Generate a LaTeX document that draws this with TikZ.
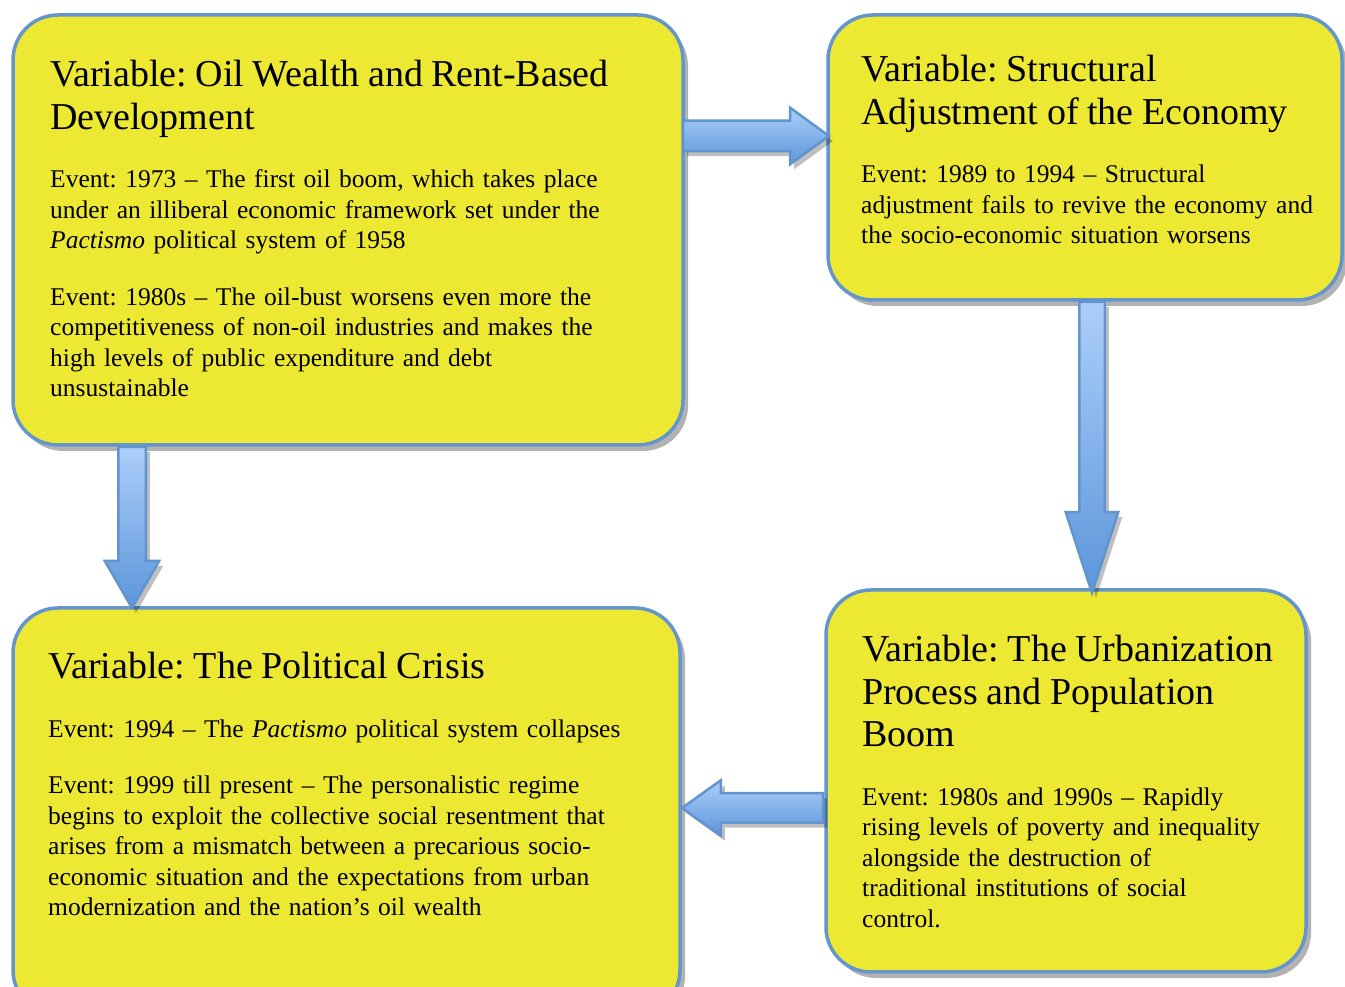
\documentclass[tikz,border=0pt]{standalone}
\usepackage{fontspec}
\setmainfont{Liberation Serif}
\usepackage{tikz}
\usetikzlibrary{calc}
\usetikzlibrary{positioning}
\usetikzlibrary{shapes.arrows}
\usetikzlibrary{shadows}
\definecolor{boxyellow}{RGB}{237,233,50}
\definecolor{boxblue}{RGB}{100,150,205}
\definecolor{arrowlight}{RGB}{172,206,250}
\definecolor{arrowdark}{RGB}{92,150,218}
\definecolor{arrowedge}{RGB}{98,148,205}
\frenchspacing
\newcommand{\titlefont}{\fontsize{38}{42.5}\selectfont}
\newcommand{\eventfont}{\fontsize{25.5}{30.5}\selectfont}
\newcommand{\titleskip}{28pt}
\newcommand{\eventskip}{26pt}
\newcommand{\blockarrow}[4]{%
  \path let \p1=($(#3)-(#2)$), \n1={veclen(\x1,\y1)}, \n2={atan2(\y1,\x1)} in
    node[bigarrow, minimum height=\n1, rotate=\n2, anchor=tail, #4] (#1) at (#2) {};}
\tikzset{
    varbox/.style={draw=boxblue, line width=3.5pt, fill=boxyellow, rounded corners=45pt,
        anchor=north west, inner sep=0pt, outer sep=0pt,
        drop shadow={shadow xshift=5pt, shadow yshift=-6pt, fill=black, opacity=.3}},
    vartext/.style={anchor=north west, inner sep=0pt, text width=660pt, align=left,
        font=\eventfont\parindent0pt},
    bigarrow/.style={single arrow, draw=arrowedge, line width=2.5pt, inner xsep=0pt,
        minimum width=0pt, outer sep=0pt, top color=arrowlight, bottom color=arrowdark,
        drop shadow={shadow xshift=4pt, shadow yshift=-5pt, fill=black, opacity=.25}}
}

\begin{document}
\begin{tikzpicture}[x=1pt, y=1pt]
    \useasboundingbox (0,0) rectangle (1345,986);

    \node[varbox, minimum width=670pt, minimum height=430pt] (oil) at (13,971) {};
    \node[varbox, minimum width=514pt, minimum height=285pt] (adjust) at (828,971) {};
    \node[varbox, minimum width=667pt, minimum height=407pt] (crisis) at (13,378) {};
    \node[varbox, minimum width=480pt, minimum height=382pt] (urban) at (826,396) {};

    \node[vartext, below right=45pt and 37pt of oil.north west] (oiltext) {%
        {\titlefont Variable: Oil Wealth and Rent-Based\\Development\par}
        \vspace{\titleskip}
        Event: 1973 -- The first oil boom, which takes place\\
        under an illiberal economic framework set under the\\
        \textit{Pactismo} political system of 1958\par
        \vspace{\eventskip}
        Event: 1980s -- The oil-bust worsens even more the\\
        competitiveness of non-oil industries and makes the\\
        high levels of public expenditure and debt\\
        unsustainable\par};
    \node[vartext, below right=40pt and 33pt of adjust.north west] (adjusttext) {%
        {\titlefont Variable: Structural\\Adjustment of the Economy\par}
        \vspace{\titleskip}
        Event: 1989 to 1994 -- Structural\\
        adjustment fails to revive the economy and\\
        the socio-economic situation worsens\par};
    \node[vartext, below right=44pt and 35pt of crisis.north west] (crisistext) {%
        {\titlefont Variable: The Political Crisis\par}
        \vspace{\titleskip}
        Event: 1994 -- The \textit{Pactismo} political system collapses\par
        \vspace{\eventskip}
        Event: 1999 till present -- The personalistic regime\\
        begins to exploit the collective social resentment that\\
        arises from a mismatch between a precarious socio-\\
        economic situation and the expectations from urban\\
        modernization and the nation’s oil wealth\par};
    \node[vartext, below right=45pt and 36pt of urban.north west] (urbantext) {%
        {\titlefont Variable: The Urbanization\\Process and Population\\Boom\par}
        \vspace{\titleskip}
        Event: 1980s and 1990s -- Rapidly\\
        rising levels of poverty and inequality\\
        alongside the destruction of\\
        traditional institutions of social\\
        control.\par};

    \coordinate (boomtail) at ($(oil.north east)+(0,-121)$);
    \coordinate (boomtip) at ($(adjust.north west)+(1,-121)$);
    \coordinate (busttail) at ($(oil.south west)+(119,-2)$);
    \coordinate (busttip) at ($(crisis.north west)+(119,0)$);
    \coordinate (growtail) at ($(adjust.south west)+(264,-2)$);
    \coordinate (growtip) at ($(urban.north west)+(266,-3)$);
    \coordinate (unresttail) at ($(urban.north west)+(-3,-218)$);
    \coordinate (unresttip) at ($(crisis.north east)+(2,-200)$);

    \blockarrow{boomarrow}{boomtail}{boomtip}{single arrow tip angle=72, inner ysep=14pt,
        single arrow head extend=13pt}
    \blockarrow{bustarrow}{busttail}{busttip}{single arrow tip angle=60, inner ysep=12.5pt,
        single arrow head extend=13.5pt}
    \blockarrow{growarrow}{growtail}{growtip}{single arrow tip angle=36, inner ysep=11.5pt,
        single arrow head extend=13.5pt}
    \blockarrow{unrestarrow}{unresttail}{unresttip}{single arrow tip angle=71, inner ysep=13.5pt,
        single arrow head extend=13pt}
\end{tikzpicture}
\end{document}
